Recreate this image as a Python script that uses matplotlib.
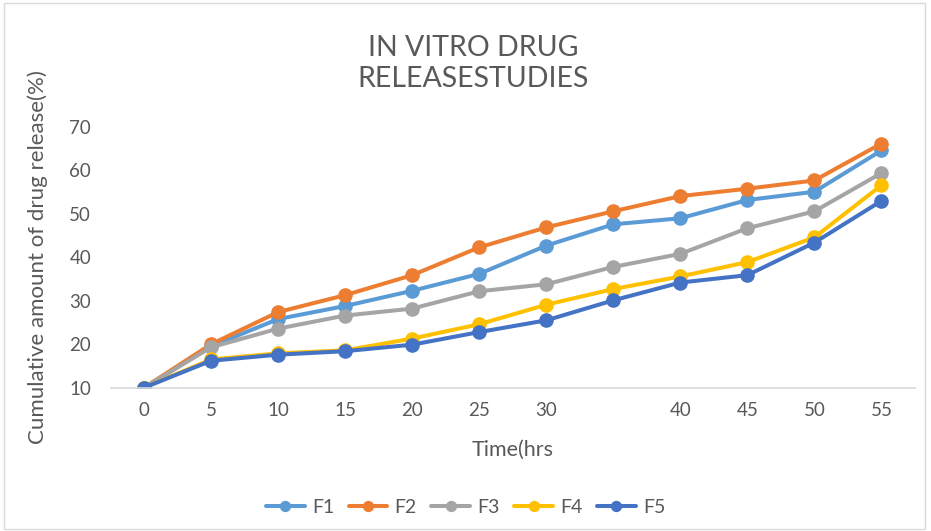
import matplotlib.pyplot as plt
from matplotlib.patches import Rectangle

# time points (35 label is blank in the original)
time_labels = ["0", "5", "10", "15", "20", "25", "30", "", "40", "45", "50", "55"]

f1 = [10, 19.5, 25.8, 28.8, 32.3, 36.2, 42.7, 47.6, 49.0, 53.2, 55.1, 64.6]
f2 = [10, 20.0, 27.4, 31.3, 35.9, 42.3, 46.9, 50.6, 54.1, 55.8, 57.7, 66.2]
f3 = [10, 19.3, 23.6, 26.6, 28.2, 32.2, 33.8, 37.8, 40.8, 46.7, 50.6, 59.4]
f4 = [10, 16.5, 17.9, 18.6, 21.3, 24.6, 29.1, 32.7, 35.6, 38.9, 44.6, 56.6]
f5 = [10, 16.2, 17.6, 18.4, 19.9, 22.8, 25.5, 30.1, 34.2, 35.9, 43.4, 53.0]

series = {"F1": f1, "F2": f2, "F3": f3, "F4": f4, "F5": f5}
colors = {"F1": "#5B9BD5", "F2": "#ED7D31", "F3": "#A5A5A5", "F4": "#FFC000", "F5": "#4472C4"}

plt.rcParams['font.family'] = ['Lato', 'DejaVu Sans']
txt = "#595959"

fig = plt.figure(figsize=(9.31, 5.31), dpi=100)
ax = fig.add_axes([0.1187, 0.2699, 0.8641, 0.4909])

x = list(range(len(time_labels)))
for name, vals in series.items():
    ax.plot(x, vals, color=colors[name], lw=2.9, marker="o", ms=9.5,
            label=name, solid_capstyle="round")

ax.set_xlim(-0.5, len(time_labels) - 0.5)
ax.set_ylim(10, 70)
ax.set_xticks(x)
ax.set_xticklabels(time_labels)
ax.set_yticks(range(10, 71, 10))

for s in ["top", "right", "left"]:
    ax.spines[s].set_visible(False)
ax.spines["bottom"].set_color("#D9D9D9")
ax.spines["bottom"].set_linewidth(1.2)
ax.tick_params(axis="both", length=0, labelsize=13.5, colors=txt)
ax.tick_params(axis="x", pad=10)
ax.tick_params(axis="y", pad=14)

fig.text(0.508, 0.88, "IN VITRO DRUG\nRELEASESTUDIES", ha="center", va="center",
         fontsize=20.5, color=txt, linespacing=1.25)
fig.text(0.041, 0.515, "Cumulative amount of drug release(%)", rotation=90,
         ha="center", va="center", fontsize=16, color=txt)
fig.text(0.551, 0.152, "Time(hrs", ha="center", va="center", fontsize=15.5, color=txt)

leg = fig.legend(loc="center", bbox_to_anchor=(0.5, 0.045), ncol=5, frameon=False,
                 fontsize=14, handlelength=2.0, columnspacing=0.75, handletextpad=0.36,
                 markerscale=0.75)
for t in leg.get_texts():
    t.set_color(txt)

fig.patches.append(Rectangle((0.004, 0.004), 0.99, 0.99, transform=fig.transFigure,
                             fill=False, edgecolor="#D9D9D9", lw=1))

fig.savefig("out.png", dpi=100)
